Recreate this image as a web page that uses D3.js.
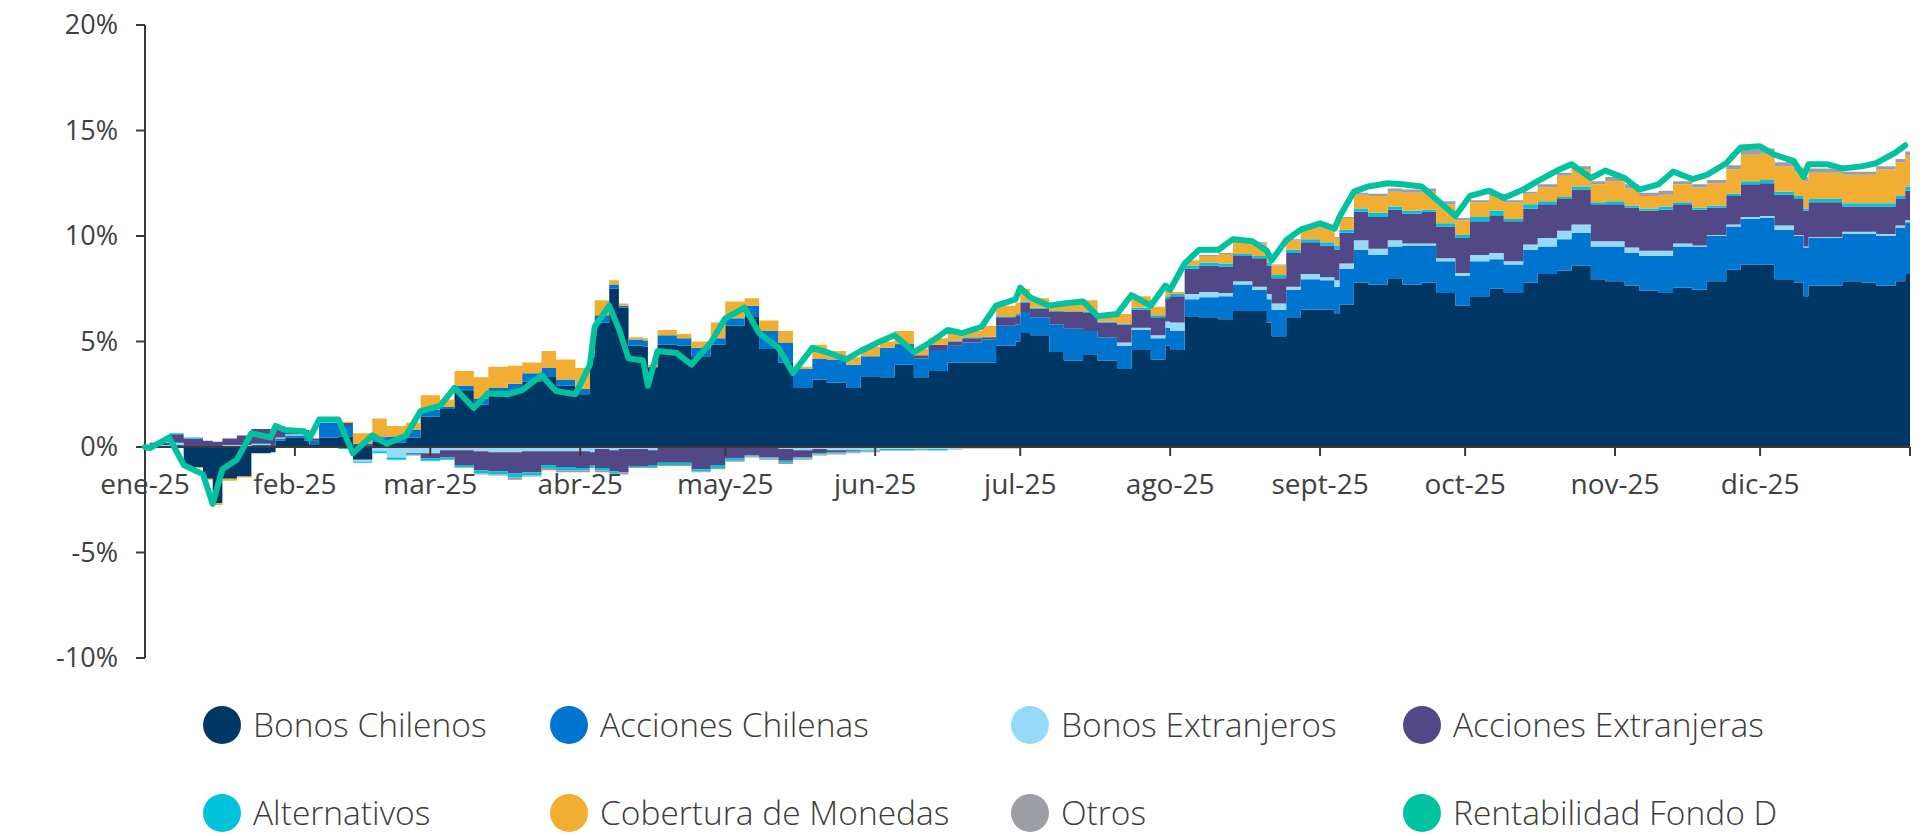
<!DOCTYPE html>
<html>
<head>
<meta charset="utf-8">
<script src="https://cdn.jsdelivr.net/npm/d3@7"></script>
<style>
    body{margin:0;background:#fff;}
    svg{display:block;font-family:"Open Sans",sans-serif;}
</style>
</head>
<body>
<div id="chart"></div>
<script>
var dates = [
    "2025-01-01","2025-01-02","2025-01-06","2025-01-09","2025-01-13","2025-01-15","2025-01-17","2025-01-20","2025-01-23","2025-01-27","2025-01-28","2025-01-30",
    "2025-02-03","2025-02-04","2025-02-06","2025-02-10","2025-02-13","2025-02-17","2025-02-20","2025-02-24","2025-02-27",
    "2025-03-03","2025-03-06","2025-03-10","2025-03-13","2025-03-17","2025-03-20","2025-03-24","2025-03-27","2025-03-31",
    "2025-04-03","2025-04-04","2025-04-07","2025-04-09","2025-04-11","2025-04-14","2025-04-15","2025-04-17","2025-04-21","2025-04-24","2025-04-28",
    "2025-05-01","2025-05-05","2025-05-08","2025-05-12","2025-05-15","2025-05-19","2025-05-22","2025-05-26","2025-05-29",
    "2025-06-02","2025-06-05","2025-06-09","2025-06-12","2025-06-16","2025-06-19","2025-06-23","2025-06-26","2025-06-30",
    "2025-07-01","2025-07-03","2025-07-07","2025-07-10","2025-07-14","2025-07-17","2025-07-21","2025-07-24","2025-07-28","2025-07-31",
    "2025-08-01","2025-08-04","2025-08-07","2025-08-11","2025-08-14","2025-08-18","2025-08-21","2025-08-22","2025-08-25","2025-08-28",
    "2025-09-01","2025-09-04","2025-09-05","2025-09-08","2025-09-11","2025-09-15","2025-09-18","2025-09-22","2025-09-25","2025-09-29",
    "2025-10-02","2025-10-06","2025-10-09","2025-10-13","2025-10-16","2025-10-20","2025-10-23","2025-10-27","2025-10-30",
    "2025-11-03","2025-11-06","2025-11-10","2025-11-13","2025-11-17","2025-11-20","2025-11-24","2025-11-27",
    "2025-12-01","2025-12-04","2025-12-08","2025-12-10","2025-12-11","2025-12-15","2025-12-18","2025-12-22","2025-12-25","2025-12-29","2025-12-31"
];

// contribution of each asset class, in %
var bonosChilenos = [
    0,0.05,0.05,-0.95,-1.5,-2.65,-1.5,-1.4,-0.3,-0.25,0.3,0.45,
    0.3,0.1,0.45,0.5,-0.6,0.25,0.2,0.45,1.45,
    1.8,2.65,2.0,2.4,2.65,3.1,3.35,2.9,2.5,
    4.25,5.9,7.5,6.6,4.8,4.75,3.75,4.85,4.8,4.3,4.85,
    5.75,6.2,4.65,4.0,2.8,3.2,3.05,2.8,3.35,
    3.3,3.9,3.3,3.6,4.0,4.0,4.0,4.8,5.0,
    5.4,5.3,4.5,4.1,4.4,4.1,3.7,4.6,4.15,4.8,
    4.6,6.2,6.15,6.05,6.45,6.45,5.9,5.25,6.15,6.5,
    6.5,6.3,6.75,7.8,7.7,8.0,7.7,7.8,7.3,6.7,
    7.15,7.5,7.3,7.8,8.2,8.35,8.6,7.95,7.85,
    7.65,7.4,7.3,7.55,7.45,7.85,8.4,8.65,
    8.65,7.95,7.8,7.15,7.65,7.65,7.85,7.8,7.65,7.85,8.2
];
var accionesChilenas = [
    0,0,0.05,0,0,0,0.05,0.05,0.1,0,0.1,0.1,
    0.25,0.2,0.7,0.5,0.1,0.2,0.3,0.35,0.3,
    0.1,0.25,0.3,0.4,0.35,0.4,0.4,0.3,0.25,
    0.2,0.35,0.2,0.1,0.3,0.3,0.05,0.45,0.35,0.4,0.3,
    0.35,0.5,0.85,0.95,0.9,1.0,1.1,1.1,0.95,
    1.4,0.95,0.9,1.0,0.8,0.95,1.1,0.95,0.8,
    1.0,0.85,1.3,1.5,1.1,1.1,1.1,0.95,1.0,0.85,
    0.9,0.8,0.95,1.1,1.25,1.0,1.1,1.25,1.3,1.45,
    1.4,1.3,1.7,1.55,1.4,1.5,1.85,1.75,1.5,1.4,
    1.65,1.4,1.35,1.55,1.3,1.5,1.55,1.55,1.65,
    1.55,1.65,1.75,1.95,2.05,2.15,2.05,2.15,
    2.2,2.35,2.2,2.3,2.25,2.25,2.25,2.3,2.35,2.55,2.45
];
var bonosExtranjeros = [
    0,0.05,0.1,0.05,0.05,0.05,0.05,0.05,0.05,0.05,0.05,0.05,
    0.05,0,0.05,-0.05,-0.1,-0.2,-0.5,-0.3,-0.3,
    -0.15,-0.15,-0.2,-0.25,-0.25,-0.2,-0.2,-0.2,-0.2,
    -0.25,-0.1,-0.15,-0.1,-0.1,-0.1,-0.15,0,-0.05,-0.05,-0.05,
    -0.05,-0.05,-0.05,-0.1,-0.15,-0.1,-0.15,-0.15,-0.15,
    -0.1,-0.1,-0.1,-0.1,-0.1,-0.05,-0.05,-0.05,-0.05,
    -0.03,-0.03,-0.02,0,0,0,0.15,0.1,0.15,0.3,
    0.4,0.25,0.25,0.15,0.15,0.15,0.25,0.3,0.15,0.25,
    0.15,0.3,0.25,0.45,0.3,0.3,0.1,0.1,0.15,0.15,
    0.3,0.3,0.15,0.25,0.4,0.4,0.4,0.25,0.25,
    0.25,0.25,0.25,0.15,0.05,0.05,0.1,0.1,
    0.1,0.2,0.05,0.05,0.05,0.05,0.1,0.1,0.1,0.1,0.1
];
var accionesExtranjeras = [
    0,0.1,0.4,0.35,0.25,0.2,0.3,0.45,0.7,0.6,0.5,0.2,
    0.2,0.1,0.05,0.15,0.05,0.05,0,-0.05,-0.25,
    -0.35,-0.7,-0.9,-0.9,-1.0,-1.0,-0.65,-0.75,-0.8,
    -0.6,-0.9,-1.0,-1.1,-0.8,-0.8,-0.7,-0.75,-0.7,-1.0,-0.8,
    -0.5,-0.35,-0.45,-0.55,-0.35,-0.2,-0.1,-0.05,0,
    0,0.05,0.15,0.25,0.2,0.2,0.1,0.4,0.45,
    0.45,0.4,0.6,0.8,0.85,0.7,0.85,0.85,0.85,1.1,
    1.25,1.2,1.25,1.25,1.2,1.35,1.35,1.2,1.6,1.5,
    1.5,1.45,1.45,1.35,1.5,1.45,1.4,1.5,1.5,1.65,
    1.6,1.75,1.9,1.7,1.6,1.5,1.65,1.75,1.75,
    1.9,1.9,1.95,1.85,1.7,1.3,1.35,1.55,
    1.55,1.45,1.7,1.7,1.65,1.65,1.2,1.2,1.3,1.25,1.4
];
var alternativos = [
    0,0,0.05,0.05,0,0,0,0,0,0,0,0,
    0,0,0,-0.05,-0.05,-0.1,-0.1,-0.05,-0.1,
    -0.1,-0.1,-0.15,-0.15,-0.2,-0.15,-0.15,-0.15,-0.1,
    -0.1,-0.1,-0.1,0,-0.05,-0.05,-0.1,-0.1,-0.1,-0.1,-0.15,
    -0.1,-0.05,-0.05,-0.1,-0.05,-0.05,-0.05,-0.05,-0.05,
    -0.05,-0.05,-0.03,-0.05,0.05,0.05,0.03,0.05,0.05,
    0.05,0.05,0.05,0.03,0.05,0.05,0.05,0.1,0.1,0.1,
    0.1,0.15,0.15,0.15,0.1,0.1,0.15,0.15,0.15,0.15,
    0.15,0.2,0.15,0.15,0.2,0.15,0.15,0.1,0.15,0.15,
    0.2,0.25,0.1,0.2,0.15,0.1,0.15,0.1,0.15,
    0.1,0.1,0.15,0.1,0.1,0.1,0.1,0.15,
    0.15,0.15,0.15,0.1,0.15,0.15,0.15,0.15,0.15,0.15,0.2
];
var coberturaMonedas = [
    0,0,0,-0.05,-0.05,-0.1,-0.1,-0.05,0,0.05,0.05,0.02,
    0,0,0.1,0.05,0.5,0.85,0.5,0.35,0.7,
    0.35,0.7,1.0,1.0,0.85,0.5,0.8,0.95,1.0,
    0.65,0.7,0.2,0.1,0.1,0.1,0.1,0.25,0.2,0.3,0.75,
    0.8,0.35,0.5,0.55,0.1,0.65,0.4,0.35,0.45,
    0.3,0.6,0.3,0.3,0.4,0.3,0.5,0.5,0.55,
    0.6,0.45,0.3,0.4,0.55,0.3,0.45,0.55,0.4,0.2,
    0.1,0.25,0.3,0.45,0.7,0.6,0.3,0.45,0.45,0.55,
    0.7,0.35,0.55,0.65,0.8,0.7,0.85,0.85,0.9,0.7,
    0.7,0.7,0.8,0.5,0.65,1.0,0.8,0.85,0.95,
    0.8,0.6,0.55,0.85,0.95,1.05,1.15,1.25,
    1.25,1.2,1.15,1.3,1.25,1.25,1.35,1.35,1.6,1.6,1.45
];
var otros = [
    0,0,0,0,0,0,0,0,0,0,0,0,
    0,0,0,0,0,0,0,0,-0.02,
    -0.02,-0.03,-0.05,-0.05,-0.1,-0.05,-0.1,-0.1,-0.1,
    -0.05,-0.1,-0.1,-0.1,-0.05,-0.05,-0.05,-0.05,-0.05,-0.05,-0.05,
    -0.05,-0.05,-0.05,-0.05,-0.05,-0.05,-0.05,-0.05,-0.05,
    -0.03,-0.03,-0.03,-0.02,-0.02,-0.02,-0.02,-0.02,-0.02,
    -0.02,-0.02,0,0,0,0,0,0,0,0.05,
    0,0,0.05,0.05,0.05,0.05,0.05,0.05,0.05,0.05,
    0.05,0.05,0.05,0.1,0.1,0.15,0.15,0.15,0.15,0.1,
    0.1,0.1,0.1,0.1,0.15,0.15,0.15,0.15,0.2,
    0.2,0.15,0.2,0.15,0.15,0.15,0.2,0.25,
    0.25,0.2,0.2,0.2,0.2,0.2,0.15,0.15,0.15,0.15,0.2
];
var rentabilidadFondoD = [
    0,-0.05,0.45,-0.85,-1.3,-2.7,-1.05,-0.6,0.65,0.45,1.0,0.8,
    0.75,0.4,1.3,1.3,-0.3,0.55,0.15,0.55,1.7,
    1.95,2.8,1.85,2.55,2.5,2.7,3.4,2.65,2.5,
    3.9,5.7,6.7,5.6,4.2,4.1,2.9,4.55,4.45,3.9,4.95,
    6.1,6.6,5.4,4.7,3.5,4.7,4.5,4.15,4.55,
    5.0,5.3,4.5,4.9,5.55,5.4,5.7,6.7,7.0,
    7.55,7.1,6.7,6.8,6.9,6.2,6.3,7.2,6.7,7.65,
    7.45,8.7,9.35,9.35,9.85,9.75,9.3,8.85,9.8,10.3,
    10.6,10.35,10.9,12.1,12.35,12.5,12.45,12.35,11.75,10.95,
    11.9,12.15,11.8,12.2,12.6,13.1,13.4,12.75,13.1,
    12.75,12.2,12.45,13.05,12.7,12.9,13.45,14.2,
    14.25,13.85,13.55,12.8,13.4,13.4,13.2,13.3,13.45,13.95,14.3
];

var seriesNames = ["Bonos Chilenos","Acciones Chilenas","Bonos Extranjeros","Acciones Extranjeras","Alternativos","Cobertura de Monedas","Otros"];
var seriesValues = [bonosChilenos,accionesChilenas,bonosExtranjeros,accionesExtranjeras,alternativos,coberturaMonedas,otros];
var seriesColors = ["#003764","#0075cf","#96d9f8","#524787","#00c3db","#f2ae32","#9c9ea4"];
var lineName = "Rentabilidad Fondo D";
var lineColor = "#00c29f";
var monthLabels = ["ene-25","feb-25","mar-25","abr-25","may-25","jun-25","jul-25","ago-25","sept-25","oct-25","nov-25","dic-25"];
var yTicks = [-10,-5,0,5,10,15,20];

function drawChart(){
    var width = 1931, height = 836;
    var parse = d3.utcParse("%Y-%m-%d");
    var xDates = dates.map(parse);
    var start = Date.UTC(2025,0,1), end = Date.UTC(2026,0,1);

    var x = d3.scaleUtc().domain([start,end]).range([145,1910]);
    var y = d3.scaleLinear().domain([-10,20]).range([658,25]);

    var svg = d3.select("#chart").append("svg")
        .attr("width",width)
        .attr("height",height);

    // rows for the stack
    var rows = xDates.map(function(d,i){
        var r = {date:d};
        seriesNames.forEach(function(n,k){ r[n] = seriesValues[k][i]; });
        return r;
    });
    var stacked = d3.stack().keys(seriesNames).offset(d3.stackOffsetDiverging)(rows);

    // step area, last step runs to the end of the year
    var xs = xDates.concat([new Date(end)]);
    var area = d3.area()
        .x(function(d,i){ return x(xs[i]); })
        .y0(function(d){ return y(d[0]); })
        .y1(function(d){ return y(d[1]); })
        .curve(d3.curveStepAfter);

    svg.append("g").selectAll("path")
        .data(stacked)
        .enter()
        .append("path")
        .attr("d",function(s){ return area(s.concat([s[s.length-1]])); })
        .attr("fill",function(s,i){ return seriesColors[i]; });

    // axes
    var axisColor = "#3a3a3a";
    var ax = svg.append("g");
    ax.append("line")
        .attr("x1",x(start)).attr("x2",x(end))
        .attr("y1",y(0)).attr("y2",y(0))
        .attr("stroke",axisColor).attr("stroke-width",2);
    ax.append("line")
        .attr("x1",x(start)).attr("x2",x(start))
        .attr("y1",y(20)).attr("y2",y(-10))
        .attr("stroke",axisColor).attr("stroke-width",2);

    ax.selectAll(".yt").data(yTicks).enter().append("line")
        .attr("x1",136).attr("x2",x(start))
        .attr("y1",function(d){ return y(d); }).attr("y2",function(d){ return y(d); })
        .attr("stroke",axisColor).attr("stroke-width",2);
    ax.selectAll(".yl").data(yTicks).enter().append("text")
        .attr("x",118)
        .attr("y",function(d){ return y(d); })
        .attr("dy","0.35em")
        .attr("text-anchor","end")
        .style("font-size","27px")
        .style("fill","#404040")
        .text(function(d){ return d+"%"; });

    var months = d3.utcMonth.range(start, end+1);
    ax.selectAll(".xt").data(months).enter().append("line")
        .attr("x1",function(d){ return x(d); }).attr("x2",function(d){ return x(d); })
        .attr("y1",y(0)).attr("y2",y(0)+9)
        .attr("stroke",axisColor).attr("stroke-width",2);
    ax.selectAll(".xl").data(monthLabels).enter().append("text")
        .attr("x",function(d,i){ return x(months[i]); })
        .attr("y",494)
        .attr("text-anchor","middle")
        .style("font-size","28px")
        .style("fill","#404040")
        .text(function(d){ return d; });

    // fund return line
    var line = d3.line()
        .x(function(d,i){ return x(xDates[i]); })
        .y(function(d){ return y(d); });
    svg.append("path")
        .datum(rentabilidadFondoD)
        .attr("d",line)
        .attr("fill","none")
        .attr("stroke",lineColor)
        .attr("stroke-width",6)
        .attr("stroke-linejoin","round")
        .attr("stroke-linecap","round");

    // legend
    var legendItems = seriesNames.map(function(n,i){ return {name:n,color:seriesColors[i]}; });
    legendItems.push({name:lineName,color:lineColor});
    var colX = [222,569,1030,1422];
    var rowY = [725,813];
    var lg = svg.append("g").selectAll("g")
        .data(legendItems)
        .enter()
        .append("g")
        .attr("transform",function(d,i){ return "translate("+colX[i%4]+","+rowY[Math.floor(i/4)]+")"; });
    lg.append("circle")
        .attr("r",19)
        .attr("fill",function(d){ return d.color; });
    lg.append("text")
        .attr("x",31)
        .attr("dy","0.35em")
        .style("font-size","33.5px")
        .style("font-weight","300")
        .style("fill","#3c3c3c")
        .text(function(d){ return d.name; });
}

drawChart();
</script>
</body>
</html>
